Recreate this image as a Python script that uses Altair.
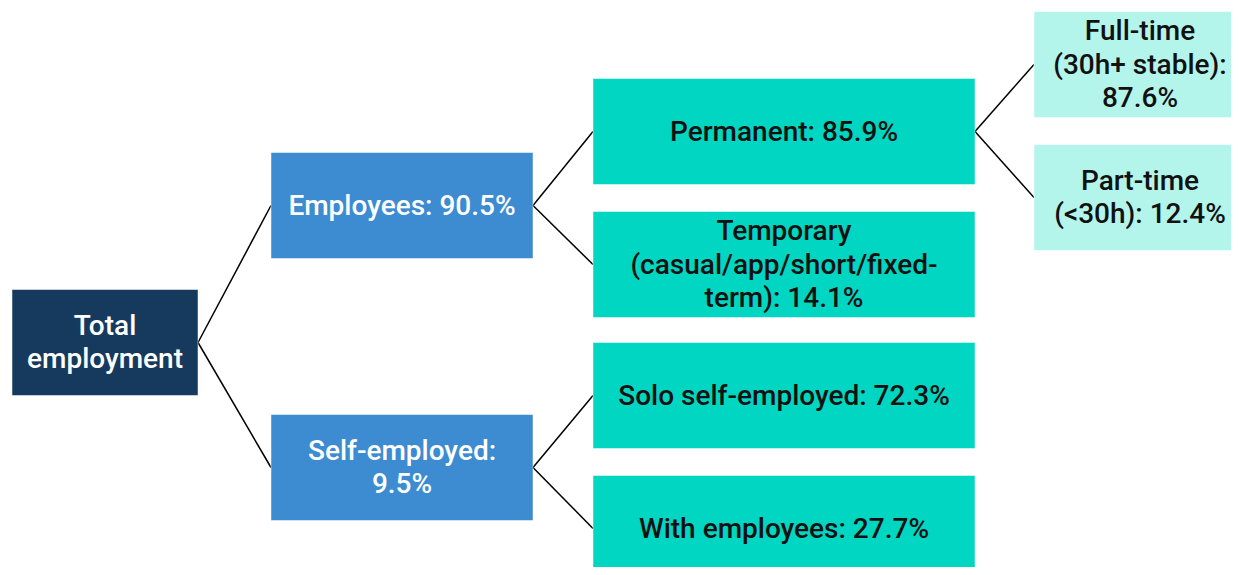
import altair as alt
import pandas as pd

# ---- data: tree structure ----
node_ids = ["total", "employees", "self", "permanent", "temporary",
            "solo", "withemp", "fulltime", "parttime"]
labels = [
    "Total\nemployment",
    "Employees: 90.5%",
    "Self-employed:\n9.5%",
    "Permanent: 85.9%",
    "Temporary\n(casual/app/short/fixed-\nterm): 14.1%",
    "Solo self-employed: 72.3%",
    "With employees: 27.7%",
    "Full-time\n(30h+ stable):\n87.6%",
    "Part-time\n(<30h): 12.4%",
]
parents = [None, "total", "total", "employees", "employees",
           "self", "self", "permanent", "permanent"]
levels = [0, 1, 1, 2, 2, 2, 2, 3, 3]

# ---- layout / style (pixel space of the 1239x575 picture) ----
col_left = {0: 12, 1: 271, 2: 593, 3: 1034}
col_right = {0: 198, 1: 533, 2: 975, 3: 1246}
row_center = {"total": 342.5, "employees": 205.5, "self": 467.5,
              "permanent": 131.5, "temporary": 264.5, "solo": 395.5,
              "withemp": 528.5, "fulltime": 64.5, "parttime": 197.5}
box_h = 106
line_h = 33.5
fill = {0: "#163A5E", 1: "#3D8BD1", 2: "#00D6C1", 3: "#B4F5EB"}
text_col = {0: "#FFFFFF", 1: "#FFFFFF", 2: "#111111", 3: "#111111"}

rows = []
text_rows = []
for nid, lab, lev in zip(node_ids, labels, levels):
    cy = row_center[nid]
    cx = (col_left[lev] + col_right[lev]) / 2
    rows.append(dict(id=nid, level=lev,
                     x=col_left[lev], x2=col_right[lev],
                     y=cy - box_h / 2, y2=cy + box_h / 2,
                     cx=cx, cy=cy, fill=fill[lev]))
    parts = lab.split("\n")
    n = len(parts)
    for i, part in enumerate(parts):
        text_rows.append(dict(text=part, cx=cx,
                              ty=cy + (i - (n - 1) / 2) * line_h,
                              tcol=text_col[lev]))
nodes = pd.DataFrame(rows)
tdf = pd.DataFrame(text_rows)

lookup = {r["id"]: r for r in rows}
edges = []
for nid, par in zip(node_ids, parents):
    if par is None:
        continue
    p, c = lookup[par], lookup[nid]
    edges.append(dict(x=p["x2"], y=p["cy"], x2=c["x"], y2=c["cy"]))
edges = pd.DataFrame(edges)

W, H = 1223, 559
xs = alt.Scale(domain=[8, 8 + W], nice=False, zero=False)
ys = alt.Scale(domain=[8, 8 + H], nice=False, zero=False, reverse=True)

lines = alt.Chart(edges).mark_rule(color="#000000", strokeWidth=1.5).encode(
    x=alt.X("x:Q", scale=xs, axis=None),
    y=alt.Y("y:Q", scale=ys, axis=None),
    x2="x2:Q", y2="y2:Q",
)

boxes = alt.Chart(nodes).mark_rect(stroke="#FFFFFF", strokeWidth=0.5).encode(
    x=alt.X("x:Q", scale=xs, axis=None),
    x2="x2:Q",
    y=alt.Y("y:Q", scale=ys, axis=None),
    y2="y2:Q",
    color=alt.Color("fill:N", scale=None),
)

texts = alt.Chart(tdf).mark_text(
    font="Roboto", fontSize=28, fontWeight=500, align="center",
    baseline="middle", dy=1
).encode(
    x=alt.X("cx:Q", scale=xs, axis=None),
    y=alt.Y("ty:Q", scale=ys, axis=None),
    text="text:N",
    color=alt.Color("tcol:N", scale=None),
)

chart = (lines + boxes + texts).properties(
    width=W, height=H, padding=0,
    autosize=alt.AutoSizeParams(type="none"),
).configure_view(stroke=None)

chart.save("out.html", embed_options={"renderer": "svg", "actions": False})
